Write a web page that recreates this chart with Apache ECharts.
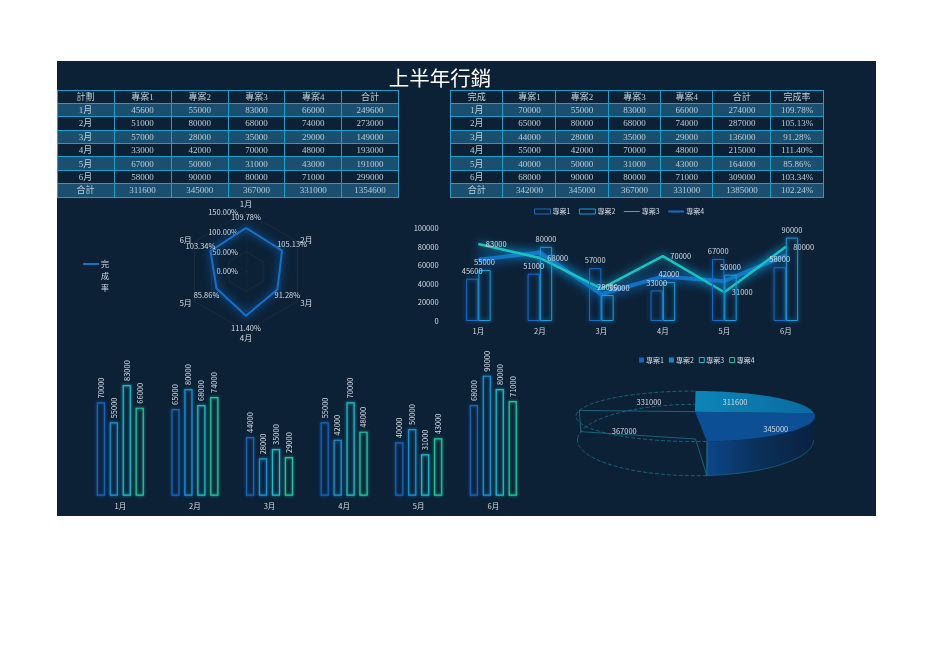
<!DOCTYPE html>
<html><head><meta charset="utf-8">
<script src="https://cdn.jsdelivr.net/npm/echarts@6/dist/echarts.min.js"></script>
<style>
html,body{margin:0;padding:0;background:#fff;width:936px;height:662px;overflow:hidden}
#panel{position:absolute;left:57px;top:61px;width:819px;height:455px;background:#0d2136}
#title{position:absolute;left:380px;top:64px;width:120px;text-align:center;color:#fff;font:400 20.5px/26px "Noto Sans CJK TC",sans-serif;white-space:nowrap}
table{position:absolute;top:89.5px;border-collapse:collapse;table-layout:fixed;font:9px/12px "Liberation Serif","Noto Sans CJK TC",serif;color:#b9ccd6}
td{border:1px solid #1c9fcb;padding:0;height:12.4px;text-align:center;white-space:nowrap;overflow:hidden}
tr.a td{background:#1a4f6f}
.c{position:absolute;left:0;top:0;width:936px;height:662px}
</style></head><body>
<div id="panel"></div>
<div class="c" id="radar"></div><div class="c" id="combo"></div><div class="c" id="bars"></div><div class="c" id="pie"></div>
<div id="title">上半年行銷</div>
<table id="t1"></table><table id="t2"></table>
<script>
const months=['1月','2月','3月','4月','5月','6月'];
const projects=['專案1','專案2','專案3','專案4'];
const plan1=[45600,51000,57000,33000,67000,58000];
const plan2=[55000,80000,28000,42000,50000,90000];
const plan3=[83000,68000,35000,70000,31000,80000];
const plan4=[66000,74000,29000,48000,43000,71000];
const planTotal=[249600,273000,149000,193000,191000,299000];
const planFoot=[311600,345000,367000,331000,1354600];
const done1=[70000,65000,44000,55000,40000,68000];
const done2=[55000,80000,28000,42000,50000,90000];
const done3=[83000,68000,35000,70000,31000,80000];
const done4=[66000,74000,29000,48000,43000,71000];
const doneTotal=[274000,287000,136000,215000,164000,309000];
const doneFoot=[342000,345000,367000,331000,1385000];
const rate=[109.78,105.13,91.28,111.40,85.86,103.34];
const rateFoot='102.24%';
const pieValues=[311600,345000,367000,331000];

const FONT='"Noto Sans CJK TC","Noto Sans",sans-serif', TXT='#d3dce4';
const COL=['#1766bd','#1a93d6','#1fbccb','#20c9a0'];

function table(id,left,widths,head,rows){
  const t=document.getElementById(id);t.style.left=left+'px';
  t.style.width=widths.reduce((a,b)=>a+b,0)+'px';
  t.innerHTML='<colgroup>'+widths.map(w=>`<col style="width:${w}px">`).join('')+'</colgroup>'+
   [head,...rows].map((r,i)=>`<tr class="${i%2?'a':''}">`+r.map(c=>`<td>${c}</td>`).join('')+'</tr>').join('');
}
table('t1',56.5,[57,57,57.3,56.5,56.7,57],['計劃',...projects,'合計'],
 [...months.map((m,i)=>[m,plan1[i],plan2[i],plan3[i],plan4[i],planTotal[i]]),['合計',...planFoot]]);
table('t2',450,[52.4,53,52.4,52.3,52.3,58,52.4],['完成',...projects,'合計','完成率'],
 [...months.map((m,i)=>[m,done1[i],done2[i],done3[i],done4[i],doneTotal[i],rate[i].toFixed(2)+'%']),['合計',...doneFoot,rateFoot]]);

const lab={color:TXT,fontSize:7.5,fontFamily:FONT};

/* radar: ECharts lays indicators out anticlockwise, so feed them reversed after the first */
const order=[0,5,4,3,2,1];
const rateR=order.map(i=>rate[i]);
const RAD_OFF=[[0,-11],[10,-6],[10,6],[0,12],[-10,7],[-10,-5]];
echarts.init(document.getElementById('radar')).setOption({
  animation:false,
  legend:{data:['完成率'],orient:'vertical',left:83,top:234,padding:0,icon:'path://M0 0H16V2H0Z',itemWidth:16,itemHeight:2,
    formatter:n=>'\n\n'+n.split('').join('\n'),
    textStyle:{color:TXT,fontSize:8,fontFamily:FONT,lineHeight:12,padding:[0,0,0,-3]}},
  radar:{center:[246,271.5],radius:59.5,startAngle:90,splitNumber:3,shape:'polygon',axisNameGap:3,
    axisName:{color:TXT,fontSize:8,fontFamily:FONT},
    splitLine:{lineStyle:{color:'rgba(255,255,255,0.05)',width:1}},
    splitArea:{show:false},
    axisLine:{lineStyle:{color:'rgba(255,255,255,0.02)'}},
    axisTick:{show:false},
    axisLabel:{show:false,...lab,formatter:v=>Number(v).toFixed(2)+'%'},
    indicator:order.map((m,i)=>({name:months[m],min:0,max:150,axisLabel:{show:i===0}}))},
  series:[{type:'radar',name:'完成率',data:[{value:rateR}],symbol:'none',
      lineStyle:{color:'#1a6fc8',width:2,shadowBlur:8,shadowColor:'#0a86ff'},itemStyle:{color:'#1a6fc8'}},
    ...order.map((m,i)=>({type:'radar',name:'l'+i,symbol:'circle',symbolSize:1,silent:true,
      lineStyle:{width:0,color:'rgba(0,0,0,0)'},itemStyle:{color:'rgba(0,0,0,0)'},data:[{value:rateR}],
      label:{show:true,position:'inside',offset:RAD_OFF[m],...lab,
        formatter:p=>p.dimensionIndex===i?rateR[i].toFixed(2)+'%':''}}))]
});

/* combo */
const hollow=(c,b)=>({color:'rgba(0,0,0,0)',borderColor:c,borderWidth:1,shadowColor:c,shadowBlur:b});
const legText={...lab,fontSize:7,padding:[0,0,0,-3]};
echarts.init(document.getElementById('combo')).setOption({
  animation:false,
  legend:{data:[
      {name:projects[0],icon:'rect',itemStyle:{color:'rgba(0,0,0,0)',borderColor:'#1a6cc4',borderWidth:1}},
      {name:projects[1],icon:'rect',itemStyle:{color:'rgba(0,0,0,0)',borderColor:'#1a9edc',borderWidth:1}},
      {name:projects[2],icon:'path://M0 0H16V1H0Z',itemStyle:{color:'#18b8d0'}},
      {name:projects[3],icon:'path://M0 0H16V2H0Z',itemStyle:{color:'#1270c4'}}],
    top:208,left:534,padding:0,itemWidth:16,itemHeight:5,itemGap:8.5,textStyle:legText},
  grid:{left:447.6,top:228.3,width:369,height:92.7,containLabel:false},
  xAxis:{type:'category',data:months,axisLine:{show:false},axisTick:{show:false},axisLabel:{...lab,margin:6}},
  yAxis:{type:'value',min:0,max:100000,interval:20000,splitLine:{show:false},axisLabel:{...lab,margin:9,formatter:v=>String(v)}},
  series:[
   {type:'bar',name:projects[0],data:plan1,z:6,barWidth:12.3,barGap:0,itemStyle:hollow('#1a6cc4',4),label:{show:true,position:'top',distance:4,...lab}},
   {type:'bar',name:projects[1],data:plan2,z:6,barWidth:12.3,barGap:0,itemStyle:hollow('#1a9edc',4),label:{show:true,position:'top',distance:4,...lab}},
   {type:'line',name:projects[3],data:plan4,symbol:'circle',symbolSize:1,z:3,lineStyle:{color:'#1270c4',width:4,shadowBlur:12,shadowColor:'#0f8ef0'},itemStyle:{color:'#1270c4'}},
   {type:'line',name:projects[2],data:plan3,symbol:'circle',symbolSize:1,z:4,lineStyle:{color:'#18c4c0',width:2.5,shadowBlur:8,shadowColor:'#10b8e0'},itemStyle:{color:'#18c4c0'},
    label:{show:true,position:'right',distance:7,...lab}}
  ]
});

/* grouped bars */
echarts.init(document.getElementById('bars')).setOption({
  animation:false,
  grid:{left:83,top:362.3,width:447.6,height:133.4},
  xAxis:{type:'category',data:months,axisLine:{show:false},axisTick:{show:false},axisLabel:{...lab,margin:7}},
  yAxis:{type:'value',min:0,max:100000,show:false},
  series:[done1,done2,done3,done4].map((d,i)=>({type:'bar',name:projects[i],data:d,barWidth:8.3,barGap:'56%',
    itemStyle:{...hollow(COL[i],3),borderWidth:1.2},
    label:{show:true,position:'top',rotate:90,align:'left',verticalAlign:'middle',distance:4,...lab}}))
});

/* 3D-looking pie */
const TOP={x:695.5,y:416.3,rx:119.5,ry:25.3}, LOW={x:695.5,y:440,rx:118,ry:35.7};
const APEX_T={x:695,y:411.7}, APEX_L={x:695.5,y:439};
const total=pieValues.reduce((a,b)=>a+b,0);
const angleOf=v=>v/total*2*Math.PI;
const rim=(c,t)=>[c.x+c.rx*Math.sin(t),c.y-c.ry*Math.cos(t)];
const arc=(c,a,b)=>{const n=48,o=[];for(let i=0;i<=n;i++)o.push(rim(c,a+(b-a)*i/n));return o;};
const LABEL_R=[.5,.86,.87,.56], LABEL_DY=[-5,-1,-1,-4];
const dashed={stroke:'#1d7f93',lineWidth:.7,lineDash:[4,2],fill:null};
const solid={stroke:'#1d7f93',lineWidth:.7,fill:null};
const poly=(pts,style)=>({type:'polyline',shape:{points:pts},style});
function slice(i){
  return function(params,api){
    const v=api.value(0);
    const before=pieValues.slice(0,i).reduce((a,b)=>a+b,0);
    const a=angleOf(before), b=a+angleOf(v), mid=(a+b)/2, kids=[];
    const A=[APEX_T.x,APEX_T.y], L=[APEX_L.x,APEX_L.y];
    if(i<2){
      if(i===1){
        const s=Math.PI/2;
        kids.push({type:'polygon',shape:{points:[...arc(TOP,s,b),...arc(LOW,b,s)]},
          style:{stroke:null,fill:new echarts.graphic.LinearGradient(0,0,1,0,[{offset:0,color:'#0c4689'},{offset:.5,color:'#0b2f58'},{offset:1,color:'#0a2140'}])}});
        kids.push(poly(arc(LOW,s,b),{...solid,stroke:'#1a6c8c'}));
        kids.push(poly([rim(TOP,b),rim(LOW,b)],{...solid,stroke:'#1d8fa8'}));
      }
      kids.push({type:'polygon',shape:{points:[A,...arc(TOP,a,b)]},
        style:{stroke:null,fill:i===0?new echarts.graphic.LinearGradient(0,0,1,0,[{offset:0,color:'#0b86b6'},{offset:1,color:'#0b6aa2'}]):'#0c4f94'}});
    }else{
      kids.push(poly(arc(TOP,a,b),dashed),poly(arc(LOW,a,b),dashed));
      if(i===2){
        const e=b+0.2;
        kids.push(poly([A,rim(TOP,e)],solid),poly([L,rim(LOW,e)],solid),poly([rim(TOP,e),rim(LOW,e)],solid),poly([L,rim(LOW,a)],solid));
      }
    }
    const p=[TOP.x+TOP.rx*LABEL_R[i]*Math.sin(mid),TOP.y-TOP.ry*LABEL_R[i]*Math.cos(mid)+LABEL_DY[i]];
    kids.push({type:'text',z2:10,style:{x:p[0],y:p[1],text:String(v),fill:TXT,fontSize:7.5,fontFamily:FONT,align:'center',verticalAlign:'middle'}});
    return {type:'group',children:kids};
  };
}
const LEG_STYLE=[{color:'#1766bd'},{color:'#1a86cc'},{color:'rgba(0,0,0,0)',borderColor:'#1fbccb',borderWidth:1},{color:'rgba(0,0,0,0)',borderColor:'#20c9a0',borderWidth:1}];
echarts.init(document.getElementById('pie')).setOption({
  animation:false,
  legend:{data:projects.map((n,i)=>({name:n,icon:'rect',itemStyle:LEG_STYLE[i]})),top:356.5,left:639,padding:0,itemWidth:5,itemHeight:5,itemGap:5,
    textStyle:{...lab,fontSize:7,padding:[0,0,0,-3]}},
  series:[3,2,1,0].map(i=>({type:'custom',name:projects[i],coordinateSystem:'none',z:5-i,
    itemStyle:LEG_STYLE[i],data:[[pieValues[i]]],renderItem:slice(i)}))
});
</script></body></html>
